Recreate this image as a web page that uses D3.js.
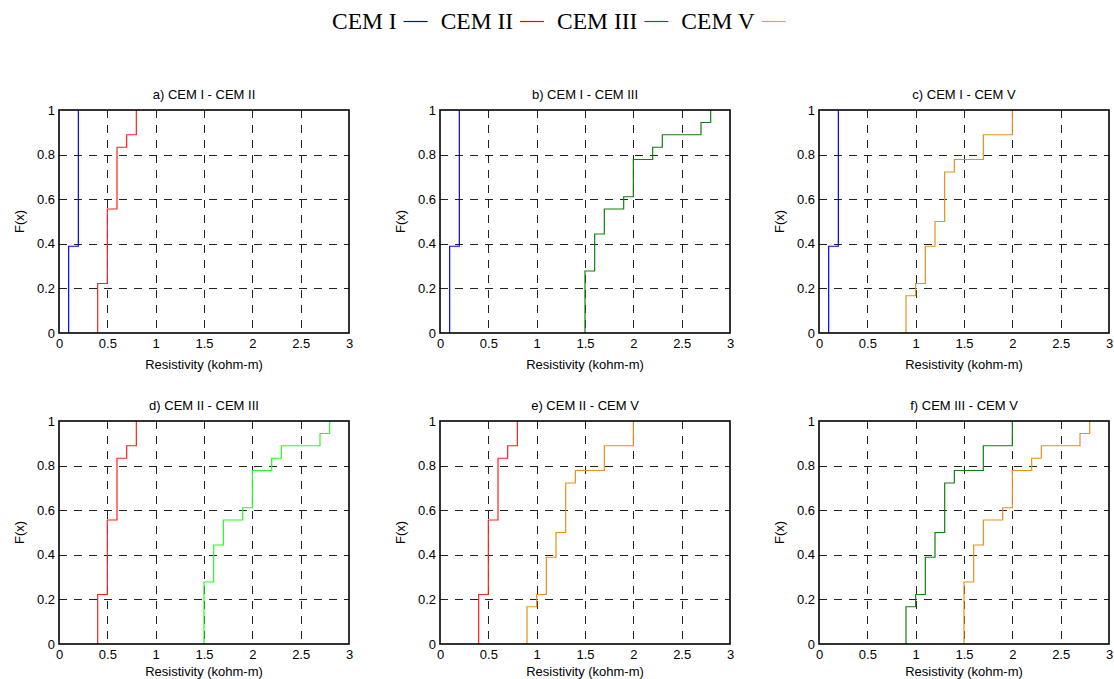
<!DOCTYPE html>
<html lang="en">
<head>
  <meta charset="UTF-8">
  <title>Empirical CDF of resistivity</title>
  <style>
    body { margin: 0; background: #fff; }
    svg { display: block; }
    .grid line { stroke: #222; stroke-width: 1; stroke-dasharray: 8 7; }
    .frame { fill: none; stroke: #000; stroke-width: 1.6; }
    .tick text, .lab { font-family: Arial, "Liberation Sans", sans-serif; font-size: 13px; fill: #000; }
    .legend text { font-family: "Times New Roman", "Liberation Serif", serif; font-size: 23.5px; fill: #000; }
    .ecdf { fill: none; stroke-width: 1.2; }
  </style>
  <script src="https://d3js.org/d3.v7.min.js"></script>
</head>
<body>
  <svg width="1114" height="679"></svg>
  <script>
    // step positions (kohm-m) and cumulative fraction F(x) after each step, n = 18
    const cemI_x   = [0.1, 0.2];
    const cemI_F   = [0.389, 1];
    const cemII_x  = [0.4, 0.5, 0.6, 0.7, 0.8];
    const cemII_F  = [0.222, 0.556, 0.833, 0.889, 1];
    const cemIII_x = [1.5, 1.6, 1.7, 1.9, 2.0, 2.2, 2.3, 2.7, 2.8];
    const cemIII_F = [0.278, 0.444, 0.556, 0.611, 0.778, 0.833, 0.889, 0.944, 1];
    const cemV_x   = [0.9, 1.0, 1.1, 1.2, 1.3, 1.4, 1.7, 2.0];
    const cemV_F   = [0.167, 0.222, 0.389, 0.5, 0.722, 0.778, 0.889, 1];

    const xTicks = [0, 0.5, 1, 1.5, 2, 2.5, 3];
    const yTicks = [0, 0.2, 0.4, 0.6, 0.8, 1];

    const legendNames = ["CEM I", "CEM II", "CEM III", "CEM V"];
    const legendColors = ["#0000ff", "#ff0000", "#008000", "#f0a030"];

    const blue = "#0000ff", red = "#ff2020", green = "#108010", lime = "#20ff20", orange = "#e8901c";

    const panels = [
      {title: "a) CEM I - CEM II",  col: 0, row: 0, series: [[cemI_x, cemI_F, blue], [cemII_x, cemII_F, red]]},
      {title: "b) CEM I - CEM III", col: 1, row: 0, series: [[cemI_x, cemI_F, blue], [cemIII_x, cemIII_F, green]]},
      {title: "c) CEM I - CEM V",   col: 2, row: 0, series: [[cemI_x, cemI_F, blue], [cemV_x, cemV_F, orange]]},
      {title: "d) CEM II - CEM III", col: 0, row: 1, series: [[cemII_x, cemII_F, red], [cemIII_x, cemIII_F, lime]]},
      {title: "e) CEM II - CEM V",  col: 1, row: 1, series: [[cemII_x, cemII_F, red], [cemV_x, cemV_F, orange]]},
      {title: "f) CEM III - CEM V", col: 2, row: 1, series: [[cemV_x, cemV_F, green], [cemIII_x, cemIII_F, orange]]}
    ];

    const svg = d3.select("svg");

    const colLeft = [59, 440, 819];
    const rowTop = [110, 421];
    const labelOffset = [36, 32];  // bottom row label squeezed to stay on the page
    const pw = 290, ph = 223;

    const x = d3.scaleLinear().domain([0, 3]).range([0, pw]);
    const y = d3.scaleLinear().domain([0, 1]).range([ph, 0]);

    const line = d3.line()
      .x(d => x(d[0]))
      .y(d => y(d[1]))
      .curve(d3.curveStepAfter);

    panels.forEach(p => {
      const g = svg.append("g")
        .attr("transform", `translate(${colLeft[p.col]},${rowTop[p.row]})`);

      // dashed grid
      const grid = g.append("g").attr("class", "grid");
      grid.selectAll("line.v")
        .data(xTicks.slice(1, -1))
        .join("line")
        .attr("class", "v")
        .attr("x1", d => Math.round(x(d)) + 0.5).attr("x2", d => Math.round(x(d)) + 0.5)
        .attr("y1", 0).attr("y2", ph);
      grid.selectAll("line.h")
        .data(yTicks.slice(1, -1))
        .join("line")
        .attr("class", "h")
        .attr("x1", 0).attr("x2", pw)
        .attr("y1", d => Math.round(y(d)) + 0.5).attr("y2", d => Math.round(y(d)) + 0.5);

      // step curves
      p.series.forEach(([xs, fs, color]) => {
        const pts = [[xs[0], 0]].concat(xs.map((v, i) => [v, fs[i]]));
        g.append("path")
          .datum(pts)
          .attr("class", "ecdf")
          .attr("stroke", color)
          .attr("d", line);
      });

      g.append("rect")
        .attr("class", "frame")
        .attr("width", pw).attr("height", ph);

      // axes, tick labels only
      const xa = g.append("g")
        .attr("transform", `translate(0,${ph})`)
        .call(d3.axisBottom(x).tickValues(xTicks).tickSize(0).tickPadding(6).tickFormat(d3.format("")));
      const ya = g.append("g")
        .call(d3.axisLeft(y).tickValues(yTicks).tickSize(0).tickPadding(4).tickFormat(d3.format("")));
      [xa, ya].forEach(a => {
        a.select(".domain").remove();
        a.attr("font-family", null).attr("font-size", null);
      });

      g.append("text")
        .attr("class", "lab")
        .attr("x", pw / 2).attr("y", -11)
        .attr("text-anchor", "middle")
        .text(p.title);

      g.append("text")
        .attr("class", "lab")
        .attr("x", pw / 2).attr("y", ph + labelOffset[p.row])
        .attr("text-anchor", "middle")
        .text("Resistivity (kohm-m)");

      g.append("text")
        .attr("class", "lab")
        .attr("transform", `translate(-35,${ph / 2}) rotate(-90)`)
        .attr("text-anchor", "middle")
        .text("F(x)");
    });

    // legend across the top
    const legend = svg.append("g").attr("class", "legend");
    let lx = 332;
    legendNames.forEach((name, i) => {
      const t = legend.append("text")
        .attr("x", lx).attr("y", 29)
        .text(name);
      const w = t.node().getComputedTextLength();
      legend.append("line")
        .attr("x1", lx + w + 7).attr("x2", lx + w + 31)
        .attr("y1", 21.5).attr("y2", 21.5)
        .attr("stroke", legendColors[i])
        .attr("stroke-width", 1.2);
      lx += w + 44;
    });
  </script>
</body>
</html>
